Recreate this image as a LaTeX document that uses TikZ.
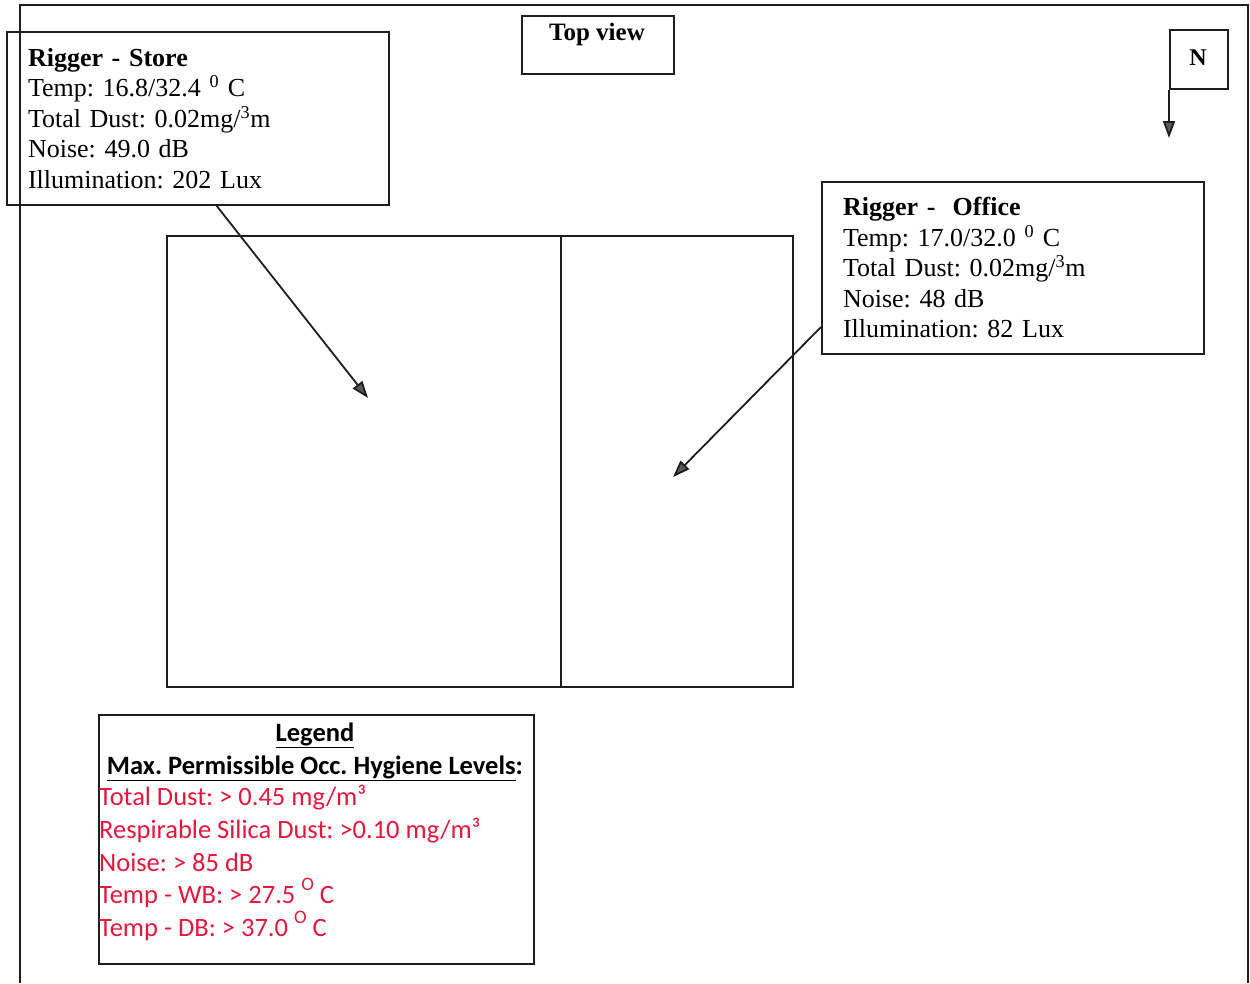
\documentclass[tikz,border=0pt]{standalone}
\usepackage{fontspec}
\setmainfont{Liberation Serif}
\newfontfamily\legendfont{Carlito}
\usetikzlibrary{arrows.meta}
\frenchspacing
\definecolor{ink}{RGB}{30,30,30}
\definecolor{limitred}{RGB}{226,24,62}
% raised degree mark used in the legend
\newcommand{\degmark}{\raisebox{0.5em}{\fontsize{19}{19}\selectfont O}}
\tikzset{
  infobox/.style={draw=ink, line width=2pt, anchor=north west, inner xsep=21pt,
    align=left, font=\fontsize{26}{30.5}\selectfont},
  tagbox/.style={draw=ink, line width=2pt, anchor=north west, inner sep=0pt},
  wall/.style={draw=ink, line width=2pt},
  pointer/.style={draw=ink, line width=1.8pt,
    -{Triangle[length=17pt,width=12pt,fill=black!65]}},
  legendline/.style={font=\legendfont\fontsize{26.5}{32.7}\selectfont}
}
\begin{document}
\begin{tikzpicture}[x=1pt,y=-1pt]
\useasboundingbox (0,0) rectangle (1250,983);
% page frame
\draw[wall] (20,983) -- (20,5) -- (1248,5) -- (1248,983);

% header tag and north marker
\node[tagbox, minimum width=152pt, minimum height=58pt] (topview) at (521,15) {};
\node[font=\bfseries\fontsize{25}{28}\selectfont] (topviewtext) at (597,34) {Top view};
\node[tagbox, minimum width=58pt, minimum height=59pt] (north) at (1169,29) {};
\node[font=\bfseries\fontsize{24}{28}\selectfont] (northtext) at (1198,58) {N};
\coordinate (northtip) at (1169,138);
\draw[pointer] (north.south west) -- (northtip);

% building plan
\node[wall, anchor=north west, minimum width=626pt, minimum height=451pt, inner sep=0pt] (room) at (166,235) {};
\draw[wall] (561,235) coordinate (divtop) -- (561,686) coordinate (divbot);

% measurement boxes
\node[infobox, text width=340pt, minimum height=173pt] (store) at (6,31)
  {\textbf{Rigger - Store}\\
   Temp: 16.8/32.4 \textsuperscript{0} C\\
   Total Dust: 0.02mg/\textsuperscript{3}m\\
   Noise: 49.0 dB\\
   Illumination: 202 Lux};
\node[infobox, text width=340pt, minimum height=172pt] (office) at (821,181)
  {\textbf{Rigger -\ \ Office}\\
   Temp: 17.0/32.0 \textsuperscript{0} C\\
   Total Dust: 0.02mg/\textsuperscript{3}m\\
   Noise: 48 dB\\
   Illumination: 82 Lux};

% pointers into the rooms
\coordinate (storefoot) at (216,205);
\coordinate (storespot) at (368,398);
\coordinate (officefoot) at (821,327);
\coordinate (officespot) at (673,477);
\draw[pointer] (storefoot) -- (storespot);
\draw[pointer] (officefoot) -- (officespot);

% legend
\node[wall, anchor=north west, minimum width=435pt, minimum height=249pt, inner sep=0pt] (legend) at (98,714) {};
\node[legendline, anchor=base] (legendhead) at (315,741) {\textbf{\underline{Legend}}};
\node[legendline, anchor=base] (legendsub) at (315,774)
  {\textbf{\underline{Max. Permissible Occ. Hygiene Levels}:}};
\node[legendline, text=limitred, anchor=north west, inner sep=0pt, align=left] (limits) at (99,785)
  {Total Dust: > 0.45 mg/m³\\
   Respirable Silica Dust: >0.10 mg/m³\\
   Noise: > 85 dB\\
   Temp - WB: > 27.5 \degmark\ C\\
   Temp - DB: > 37.0 \degmark\ C};
\end{tikzpicture}
\end{document}
